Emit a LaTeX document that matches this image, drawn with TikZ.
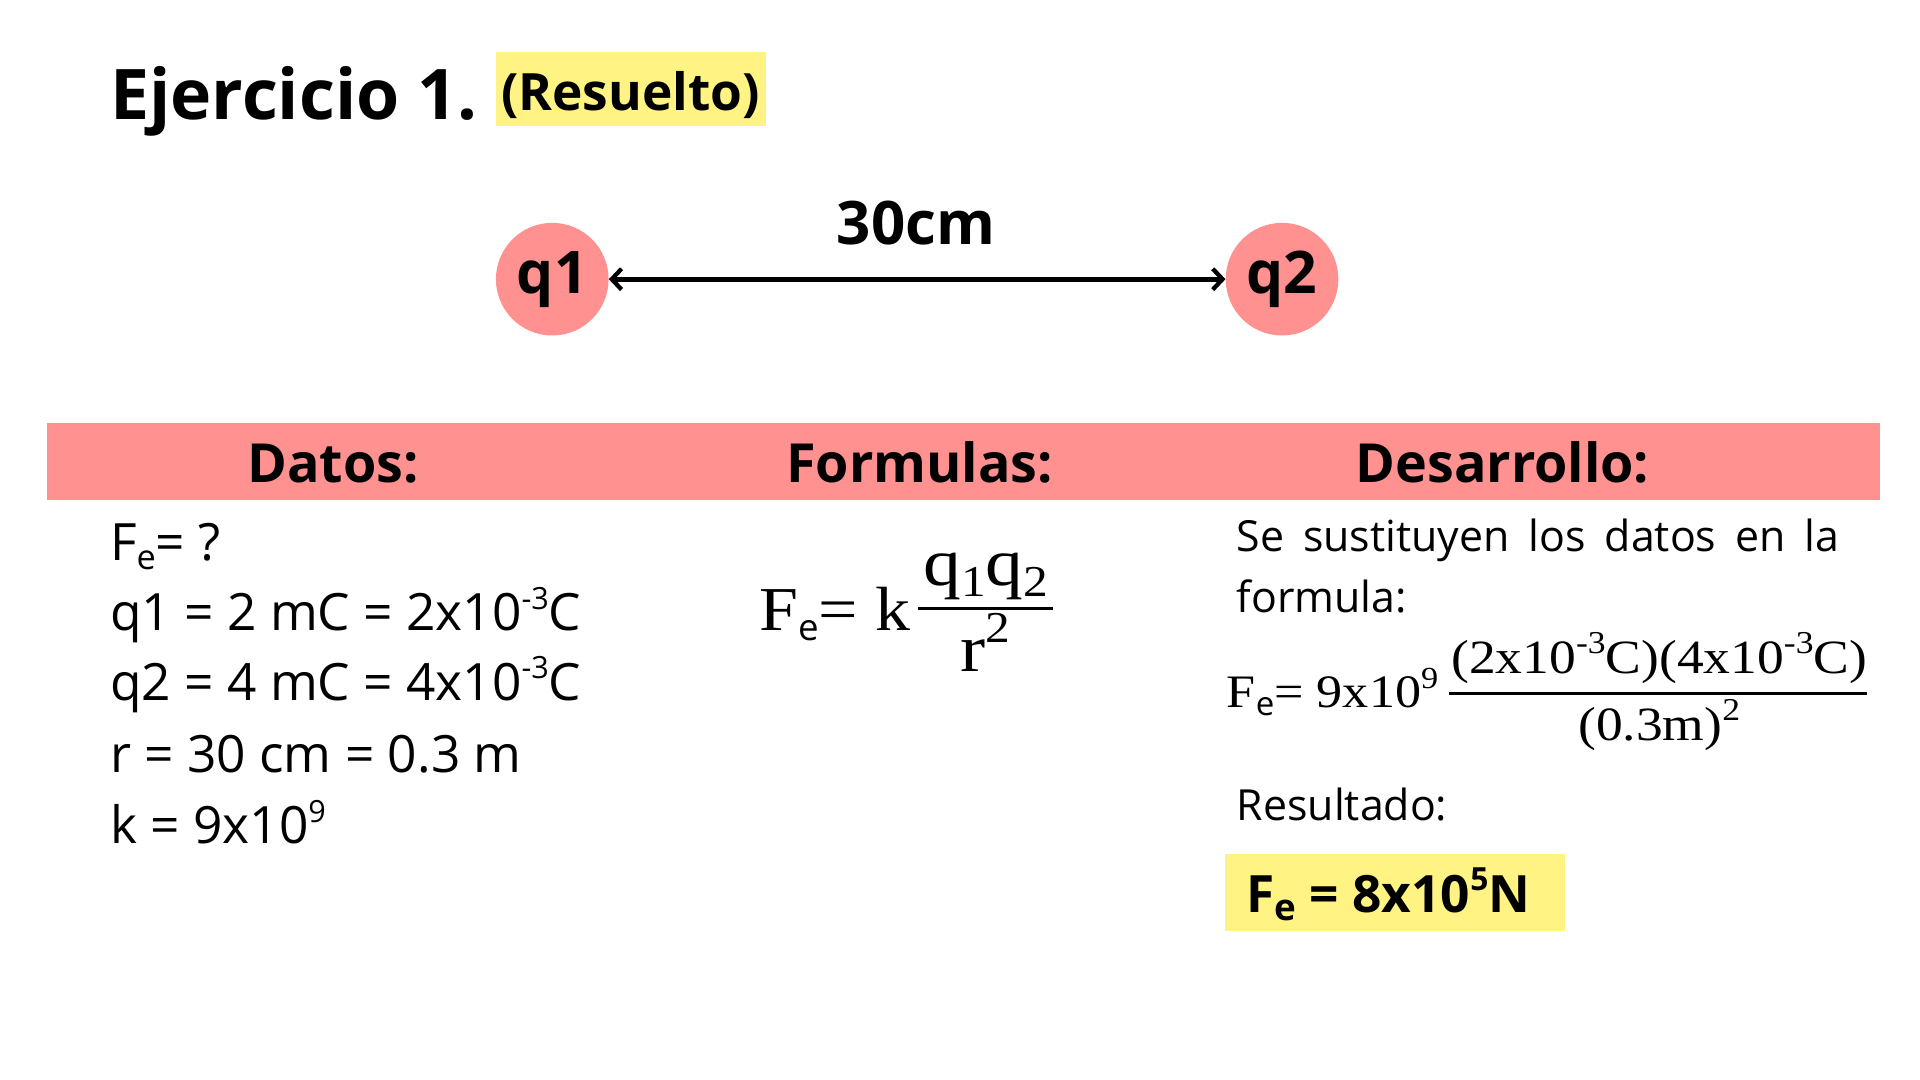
\documentclass[tikz,border=0pt]{standalone}
\usepackage[no-math]{fontspec}
\setmainfont{Open Sans}
\newfontfamily\frm[FakeStretch=1.12]{Liberation Serif}
\usetikzlibrary{arrows.meta}
\definecolor{salmon}{HTML}{FF9191}
\definecolor{hl}{HTML}{FFF383}
\newcommand{\fs}[1]{\fontsize{#1}{#1}\selectfont}
\newcommand{\up}[2]{\raisebox{0.42em}{\fontsize{#1}{#1}\selectfont #2}}
\newcommand{\dn}[2]{\raisebox{-0.16em}{\fontsize{#1}{#1}\selectfont #2}}
\tikzset{
  txt/.style={anchor=base west, inner sep=0pt, outer sep=0pt},
  head/.style={anchor=base, inner sep=0pt, font=\fs{44}\bfseries},
  charge/.style={circle, fill=salmon, minimum size=92pt, inner sep=0pt, font=\fs{48}\bfseries},
  hlbox/.style={fill=hl, inner sep=0pt, anchor=north west},
  datos/.style={txt, font=\fs{42}},
  desa/.style={txt, font=\fs{35}},
  barbtip/.tip={Straight Barb[length=8pt,width=17pt,line width=3.5pt]},
}
\begin{document}
\begin{tikzpicture}[x=1pt,y=-1pt]
\useasboundingbox (0,0) rectangle (1568,882);
\fill[white] (0,0) rectangle (1568,882);
% title
\node[txt, font=\fs{57}\bfseries] (title) at (90,98) {Ejercicio 1.};
\node[hlbox, minimum width=220pt, minimum height=61pt] (resbox) at (405,42) {};
\node[anchor=base, inner sep=0pt, font=\fs{42}\bfseries] (res) at (515,90) {(Resuelto)};
% charges
\node[charge] (q1) at (451,228) {q1};
\node[charge] (q2) at (1047,228) {q2};
\draw[line width=4pt, barbtip-barbtip] (q1) -- (q2);
\node[anchor=base, inner sep=0pt, font=\fs{49}\bfseries] (dist) at (748,200) {30cm};
% header bar
\node[fill=salmon, minimum width=1497pt, minimum height=63pt, inner sep=0pt, anchor=north west] (bar) at (38,345) {};
\node[head] (h1) at (272,394) {Datos:};
\node[head] (h2) at (751,394) {Formulas:};
\node[head] (h3) at (1227,394) {Desarrollo:};
% datos
\node[datos] (d1) at (90,458) {F\dn{28}{e}= ?};
\node[datos] (d2) at (90,515) {q1 = 2 mC = 2x10\up{25}{-3}C};
\node[datos] (d3) at (90,572) {q2 = 4 mC = 4x10\up{25}{-3}C};
\node[datos] (d4) at (90,631) {r = 30 cm = 0.3 m};
\node[datos] (d5) at (90,689) {k = 9x10\up{25}{9}};
% formula
\node[txt, font=\fs{51}\frm] (f1) at (620,515) {F\dn{30}{\rmfamily e}= k};
\node[anchor=base, inner sep=0pt, font=\fs{55}\frm] (num1) at (805,478) {q\dn{36}{1}q\dn{36}{2}};
\node[anchor=base, inner sep=0pt, font=\fs{55}\frm] (den1) at (805,548) {r\up{36}{2}};
\draw[line width=3pt] (750,497) -- (860,497);
% desarrollo
\node[desa] (s1) at (1010,450) {\makebox[492pt][s]{Se sustituyen los datos en la}};
\node[desa] (s2) at (1010,500) {formula:};
\node[txt, font=\fs{38}\frm] (f2) at (1002,578) {F\dn{27}{\rmfamily e}= 9x10\up{25}{9}};
\node[anchor=base, inner sep=0pt, font=\fs{39}\frm] (num2) at (1355,550) {(2x10\up{26}{-3}C)(4x10\up{26}{-3}C)};
\node[anchor=base, inner sep=0pt, font=\fs{39}\frm] (den2) at (1355,605) {(0.3m)\up{26}{2}};
\draw[line width=2.5pt] (1183,566) -- (1525,566);
\node[desa] (s3) at (1010,670) {Resultado:};
\node[hlbox, minimum width=278pt, minimum height=63pt] (resbox2) at (1000,697) {};
\node[txt, font=\fs{42}\bfseries] (result) at (1018,745) {F\dn{30}{e} = 8x10\up{26}{5}N};
\end{tikzpicture}
\end{document}
